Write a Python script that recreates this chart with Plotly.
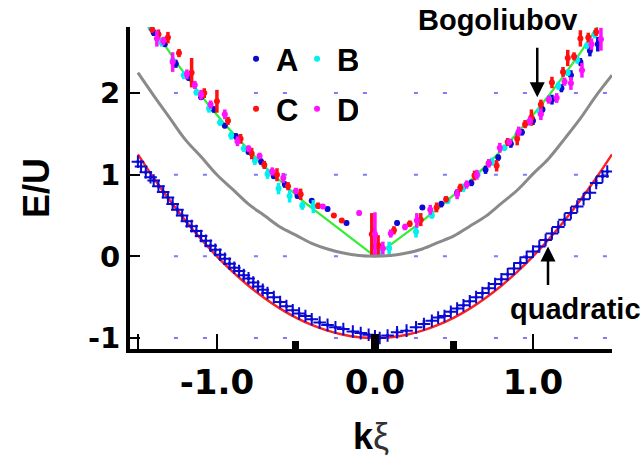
import plotly.graph_objects as go

# ---- theory curves -------------------------------------------------------
curve_k = [-1.5, -1.4, -1.3, -1.2, -1.1, -1.0, -0.9, -0.8, -0.7, -0.6, -0.5,
           -0.4, -0.3, -0.2, -0.1, 0.0, 0.1, 0.2, 0.3, 0.4, 0.5, 0.6, 0.7,
           0.8, 0.9, 1.0, 1.1, 1.2, 1.3, 1.4, 1.5]
free_E = [2.25, 1.97, 1.70, 1.43, 1.22, 1.00, 0.82, 0.64, 0.50, 0.36, 0.26,
          0.16, 0.09, 0.04, 0.01, 0.00, 0.01, 0.04, 0.09, 0.17, 0.25, 0.37,
          0.49, 0.65, 0.81, 1.01, 1.20, 1.44, 1.69, 1.97, 2.22]
quad_E = [1.25, 0.96, 0.69, 0.44, 0.21, 0.00, -0.19, -0.36, -0.51, -0.64,
          -0.75, -0.84, -0.91, -0.96, -0.99, -1.00, -0.99, -0.96, -0.91,
          -0.84, -0.75, -0.64, -0.51, -0.36, -0.19, 0.00, 0.21, 0.44, 0.69,
          0.96, 1.25]

bog_k = [-1.42, -1.35, -1.25, -1.15, -1.05, -0.95, -0.85, -0.75, -0.65,
         -0.55, -0.45, 0.0, 0.27, 0.4, 0.5, 0.6, 0.7, 0.8, 0.9, 1.0, 1.1,
         1.2, 1.3, 1.41]
bog_E = [2.846, 2.640, 2.359, 2.096, 1.849, 1.618, 1.403, 1.201, 1.012,
         0.835, 0.668, 0.0, 0.389, 0.588, 0.750, 0.922, 1.105, 1.300, 1.509,
         1.732, 1.971, 2.226, 2.497, 2.816]

# ---- measured upper branch ----------------------------------------------
A_k = [-1.40, -1.33, -1.26, -1.18, -1.10, -1.02, -0.95, -0.88, -0.80, -0.72,
       -0.64, -0.57, -0.49, -0.40, -0.30, -0.18, -0.01, 0.00, 0.14, 0.30,
       0.42, 0.52, 0.61, 0.70, 0.78, 0.86, 0.93, 1.00, 1.06, 1.12, 1.18,
       1.24, 1.30, 1.36, 1.41]
A_E = [2.74, 2.60, 2.36, 2.19, 1.95, 1.80, 1.60, 1.47, 1.28, 1.16, 0.98,
       0.88, 0.74, 0.68, 0.58, 0.41, 0.31, 0.12, 0.41, 0.60, 0.64, 0.78,
       0.90, 1.06, 1.21, 1.38, 1.52, 1.66, 1.80, 1.92, 2.06, 2.22, 2.38,
       2.52, 2.60]
A_err = [0.04, 0.03, 0.05, 0.04, 0.03, 0.04, 0.03, 0.04, 0.03, 0.04, 0.03,
         0.04, 0.03, 0.03, 0.03, 0.03, 0.03, 0.03, 0.03, 0.03, 0.04, 0.04,
         0.04, 0.05, 0.04, 0.05, 0.04, 0.05, 0.04, 0.06, 0.05, 0.06, 0.05,
         0.07, 0.09]

B_k = [-1.42, -1.35, -1.28, -1.21, -1.13, -1.05, -0.98, -0.91, -0.83, -0.76,
       -0.68, -0.61, -0.54, -0.46, -0.39, 0.03, 0.09, 0.26, 0.36, 0.46, 0.56,
       0.65, 0.74, 0.82, 0.90, 0.97, 1.04, 1.10, 1.16, 1.22, 1.28, 1.34, 1.39]
B_E = [2.80, 2.62, 2.40, 2.22, 2.01, 1.81, 1.64, 1.48, 1.32, 1.17, 1.01,
       0.83, 0.74, 0.62, 0.61, 0.08, 0.10, 0.30, 0.50, 0.68, 0.84, 1.00,
       1.16, 1.33, 1.49, 1.64, 1.78, 1.93, 2.09, 2.25, 2.41, 2.58, 2.72]
B_err = [0.04, 0.05, 0.04, 0.05, 0.04, 0.05, 0.04, 0.05, 0.04, 0.05, 0.06,
         0.07, 0.08, 0.05, 0.08, 0.07, 0.08, 0.07, 0.04, 0.04, 0.05, 0.04,
         0.05, 0.04, 0.05, 0.04, 0.05, 0.04, 0.05, 0.04, 0.05, 0.04, 0.05]

C_k = [-1.41, -1.37, -1.31, -1.24, -1.16, -1.08, -1.00, -0.93, -0.85, -0.78,
       -0.70, -0.62, -0.55, -0.47, -0.36, -0.26, -0.21, -0.02, 0.02, 0.12,
       0.22, 0.29, 0.39, 0.45, 0.54, 0.63, 0.72, 0.77, 0.84, 0.90, 0.95,
       0.99, 1.05, 1.12, 1.19, 1.22, 1.26, 1.30, 1.35, 1.40]
C_E = [2.78, 2.72, 2.68, 2.49, 2.25, 2.00, 1.90, 1.66, 1.44, 1.26, 1.12,
       1.00, 0.86, 0.76, 0.62, 0.50, 0.44, 0.27, 0.14, 0.32, 0.40, 0.45,
       0.60, 0.70, 0.84, 0.99, 1.14, 1.11, 1.40, 1.44, 1.62, 1.70, 1.86,
       2.13, 2.26, 2.43, 2.45, 2.67, 2.68, 2.75]
C_err = [0.04, 0.06, 0.07, 0.05, 0.18, 0.06, 0.14, 0.05, 0.06, 0.07, 0.05,
         0.08, 0.05, 0.07, 0.04, 0.03, 0.03, 0.26, 0.12, 0.05, 0.04, 0.08,
         0.06, 0.04, 0.05, 0.06, 0.05, 0.07, 0.05, 0.08, 0.05, 0.10, 0.06,
         0.07, 0.06, 0.10, 0.05, 0.10, 0.06, 0.05]

D_k = [-1.38, -1.34, -1.28, -1.19, -1.14, -1.10, -1.04, -0.95, -0.87, -0.80,
       -0.73, -0.65, -0.58, -0.50, -0.33, -0.10, 0.00, 0.05, 0.10, 0.19,
       0.265, 0.35, 0.52, 0.58, 0.645, 0.72, 0.79, 0.85, 0.91, 0.98, 1.05,
       1.10, 1.15, 1.20, 1.24, 1.31, 1.37, 1.43]
D_E = [2.67, 2.64, 2.38, 2.23, 2.10, 1.98, 1.86, 1.74, 1.41, 1.32, 1.23,
       1.04, 0.96, 0.80, 0.61, 0.53, 0.27, 0.10, 0.28, 0.36, 0.44, 0.57,
       0.76, 0.88, 1.00, 1.14, 1.33, 1.40, 1.53, 1.66, 1.74, 1.92, 1.94,
       2.14, 2.12, 2.28, 2.60, 2.66]
D_err = [0.10, 0.05, 0.12, 0.06, 0.05, 0.06, 0.05, 0.06, 0.06, 0.04, 0.04,
         0.05, 0.06, 0.04, 0.03, 0.03, 0.27, 0.08, 0.05, 0.04, 0.09, 0.06,
         0.06, 0.05, 0.06, 0.05, 0.06, 0.04, 0.06, 0.05, 0.07, 0.05, 0.06,
         0.05, 0.08, 0.09, 0.07, 0.14]

# ---- measured lower branch ----------------------------------------------
low_k = [-1.50, -1.48, -1.45, -1.42, -1.40, -1.37, -1.34, -1.31, -1.28,
         -1.25, -1.22, -1.19, -1.16, -1.13, -1.10, -1.07, -1.04, -1.01,
         -0.98, -0.95, -0.92, -0.89, -0.86, -0.83, -0.80, -0.77, -0.74,
         -0.71, -0.68, -0.64, -0.60, -0.56, -0.52, -0.48, -0.44, -0.40,
         -0.35, -0.30, -0.25, -0.20, -0.14, -0.09, -0.04, 0.00, 0.03, 0.08,
         0.14, 0.20, 0.26, 0.31, 0.36, 0.40, 0.44, 0.48, 0.52, 0.56, 0.60,
         0.64, 0.68, 0.72, 0.76, 0.80, 0.84, 0.88, 0.92, 0.96, 1.00, 1.04,
         1.08, 1.12, 1.16, 1.20, 1.24, 1.28, 1.32, 1.36, 1.40, 1.44, 1.47]
low_E = [1.16, 1.10, 1.03, 0.97, 0.93, 0.86, 0.79, 0.72, 0.64, 0.57, 0.50,
         0.43, 0.37, 0.31, 0.25, 0.19, 0.13, 0.08, 0.02, -0.03, -0.09, -0.14,
         -0.18, -0.23, -0.27, -0.32, -0.37, -0.41, -0.45, -0.50, -0.56,
         -0.61, -0.66, -0.70, -0.73, -0.77, -0.81, -0.84, -0.87, -0.89,
         -0.92, -0.94, -0.96, -0.98, -1.00, -0.97, -0.93, -0.91, -0.87,
         -0.83, -0.79, -0.75, -0.73, -0.68, -0.64, -0.60, -0.55, -0.50,
         -0.45, -0.39, -0.34, -0.28, -0.22, -0.15, -0.08, -0.01, 0.06, 0.12,
         0.20, 0.28, 0.36, 0.45, 0.53, 0.61, 0.70, 0.78, 0.90, 0.98, 1.04]
low_err = [0.02, 0.02, 0.02, 0.02, 0.02, 0.02, 0.02, 0.02, 0.02, 0.02, 0.02,
           0.02, 0.02, 0.02, 0.02, 0.02, 0.02, 0.02, 0.02, 0.02, 0.02, 0.02,
           0.02, 0.02, 0.02, 0.02, 0.02, 0.02, 0.02, 0.02, 0.02, 0.02, 0.02,
           0.02, 0.02, 0.02, 0.02, 0.02, 0.02, 0.02, 0.02, 0.02, 0.02, 0.03,
           0.02, 0.02, 0.04, 0.02, 0.02, 0.05, 0.02, 0.02, 0.02, 0.02, 0.02,
           0.02, 0.02, 0.02, 0.02, 0.02, 0.02, 0.02, 0.02, 0.02, 0.02, 0.02,
           0.02, 0.02, 0.02, 0.02, 0.02, 0.02, 0.02, 0.02, 0.02, 0.02, 0.04,
           0.02, 0.02]

grid_levels = [-1, 0, 1, 2]

X_RANGE = [-1.55, 1.5]
Y_RANGE = [-1.135, 2.81]

BLUE, CYAN, RED, MAGENTA = "#0a0ad2", "#00f0f0", "#ff1010", "#ff10ff"
AXFONT = "DejaVu Sans"
TXTFONT = "Liberation Sans, Arial, sans-serif"

fig = go.Figure()

fig.add_trace(go.Scatter(x=curve_k, y=free_E, mode="lines", xaxis="x2",
                         line=dict(color="#8a8a8a", width=3, shape="spline"),
                         showlegend=False, hoverinfo="skip"))
fig.add_trace(go.Scatter(x=curve_k, y=quad_E, mode="lines",
                         line=dict(color="#ff2020", width=2.5, shape="spline"),
                         showlegend=False, hoverinfo="skip"))
fig.add_trace(go.Scatter(x=bog_k, y=bog_E, mode="lines",
                         line=dict(color="#33ee33", width=2.2),
                         showlegend=False, hoverinfo="skip"))

fig.add_trace(go.Scatter(x=low_k, y=low_E, mode="markers",
                         marker=dict(symbol="cross-thin", size=9, color=BLUE,
                                     line=dict(width=2, color=BLUE)),
                         error_y=dict(type="data", array=low_err, color=BLUE,
                                      thickness=2.5, width=0),
                         showlegend=False))


def branch(name, k, E, err, color, legend):
    return go.Scatter(
        x=k, y=E, mode="markers", name=name, legend=legend,
        marker=dict(symbol="circle", size=6, color=color),
        error_y=dict(type="data", array=err, color=color, thickness=3.5,
                     width=0),
    )


fig.add_trace(branch("A", A_k, A_E, A_err, BLUE, "legend"))
fig.add_trace(branch("B", B_k, B_E, B_err, CYAN, "legend"))
fig.add_trace(branch("C", C_k, C_E, C_err, RED, "legend2"))
fig.add_trace(branch("D", D_k, D_E, D_err, MAGENTA, "legend2"))

# dotted horizontal guides
for lvl in grid_levels:
    fig.add_shape(type="line", xref="x", yref="y", x0=-1.272, x1=1.5,
                  y0=lvl, y1=lvl, layer="below",
                  line=dict(color="#7c7cf6", width=2,
                            dash="4px,25px,4px,47px"))

legend_font = dict(family=TXTFONT, size=31, color="black", weight="bold")
legend_common = dict(orientation="h", font=legend_font, entrywidth=16,
                     entrywidthmode="pixels", bgcolor="rgba(0,0,0,0)",
                     itemsizing="trace", xanchor="left", yanchor="middle")

fig.update_layout(
    width=642, height=463,
    margin=dict(l=130, r=30, t=27, b=114),
    paper_bgcolor="white", plot_bgcolor="white",
    xaxis=dict(range=X_RANGE, showline=True, linewidth=4, linecolor="black",
               ticks="inside", tickvals=[-1.5, -1, 0, 1, 1.5],
               ticktext=["", "-1.0", "0.0", "1.0", ""],
               ticklen=15, tickwidth=2, tickcolor="black",
               minor=dict(tickvals=[-0.5, 0.5], ticks="inside", ticklen=8,
                          tickwidth=7, tickcolor="black"),
               tickfont=dict(family=AXFONT, size=34, color="black",
                             weight="bold"),
               showgrid=False, zeroline=False,
               title=dict(text="<b>k</b><span style='color:#333'>ξ</span>",
                          font=dict(family=TXTFONT, size=36, color="black"),
                          standoff=24)),
    xaxis2=dict(range=X_RANGE, overlaying="x", anchor="y", side="bottom",
                showline=False, ticks="inside", tickvals=[0], ticktext=[""],
                ticklen=15, tickwidth=8, tickcolor="black",
                showgrid=False, zeroline=False),
    yaxis=dict(range=Y_RANGE, showline=True, linewidth=4, linecolor="black",
               ticks="inside", tickvals=[-1, 0, 1, 2],
               ticktext=["-1", "0", "1", "2"],
               ticklen=10, tickwidth=2, tickcolor="black",
               tickfont=dict(family=AXFONT, size=29, color="black",
                             weight="bold"),
               showgrid=False, zeroline=False,
               title=dict(text="E/U",
                          font=dict(family=TXTFONT, size=36, color="black",
                                    weight="bold"),
                          standoff=28)),
    legend=dict(x=0.22, y=0.9, **legend_common),
    legend2=dict(x=0.22, y=0.745, **legend_common),
    annotations=[
        dict(text="Bogoliubov", x=497, y=20, xref="paper", yref="paper",
             showarrow=False),
        dict(text="quadratic", x=575, y=309, xref="paper", yref="paper",
             showarrow=False),
        dict(x=1.027, y=1.95, xref="x", yref="y", ax=0, ay=-51, text="",
             showarrow=True, arrowhead=2, arrowsize=1.2, arrowwidth=2.5,
             arrowcolor="black"),
        dict(x=1.095, y=0.12, xref="x", yref="y", ax=0, ay=40, text="",
             showarrow=True, arrowhead=2, arrowsize=1.2, arrowwidth=2.5,
             arrowcolor="black"),
    ],
)

# text labels are placed in pixel terms; convert to paper coordinates
PL, PR, PT, PB = 130, 642 - 30, 27, 463 - 114
for ann in fig.layout.annotations[:2]:
    ann.x = (ann.x - PL) / (PR - PL)
    ann.y = (PB - ann.y) / (PB - PT)
    ann.xanchor = "center"
    ann.yanchor = "middle"
    ann.font = dict(family=TXTFONT, size=29, color="black", weight="bold")

fig.write_html("out.html")
